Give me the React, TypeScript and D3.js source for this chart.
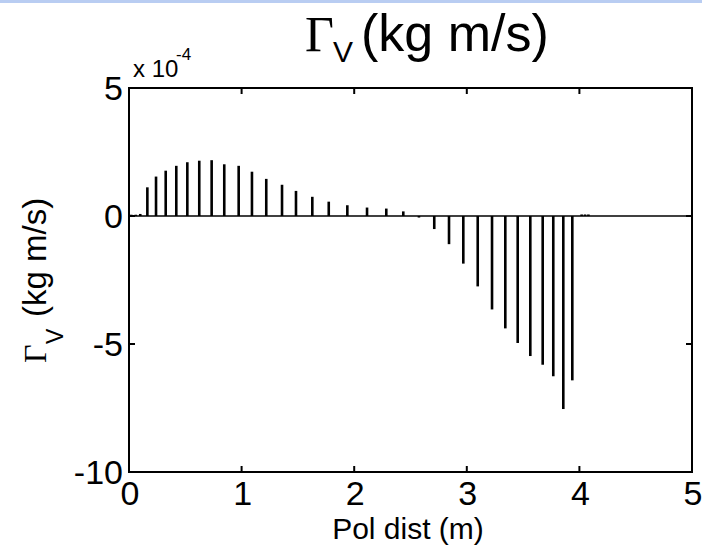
import React from "react";
import * as d3 from "d3";

// Data (values in units of 1e-4 kg m/s)
const polDist = [
  0.02, 0.06, 0.1, 0.163, 0.24, 0.326, 0.42, 0.518, 0.624, 0.734, 0.846, 0.974,
  1.092, 1.219, 1.359, 1.483, 1.628, 1.774, 1.939, 2.114, 2.285, 2.436, 2.575,
  2.711, 2.842, 2.969, 3.097, 3.224, 3.342, 3.452, 3.564, 3.674, 3.768, 3.857,
  3.937, 4.02, 4.05, 4.08,
];
const gammaV = [
  0.05, 0.05, 0.08, 1.12, 1.54, 1.77, 1.96, 2.1, 2.16, 2.18, 2.02, 1.96, 1.73,
  1.45, 1.22, 0.98, 0.75, 0.56, 0.42, 0.33, 0.29, 0.18, -0.06, -0.51, -1.1,
  -1.86, -2.75, -3.65, -4.39, -4.96, -5.47, -5.81, -6.26, -7.54, -6.42, 0.06,
  0.06, 0.06,
];
const xTicks = [0, 1, 2, 3, 4, 5];
const yTicks = [5, 0, -5, -10];
const xDomain = [0, 5];
const yDomain = [-10, 5];

const W = 702;
const H = 549;
const L = 129;
const R = 692;
const T = 88;
const B = 472;

const sans = "'Liberation Sans', Arial, Helvetica, sans-serif";
const serif = "'Liberation Serif', 'Times New Roman', serif";

export default function App() {
  const x = d3.scaleLinear().domain(xDomain).range([L, R]);
  const y = d3.scaleLinear().domain(yDomain).range([B, T]);
  const tickLen = 6;
  const barW = 2.6;

  return (
    <svg width={W} height={H} style={{ position: "absolute", left: 0, top: 0, background: "#fff" }}>
      <rect x={0} y={0} width={W} height={3} fill="#b9cdf2" />
      {/* title */}
      <text x={305} y={51} fontFamily={serif} fontSize={50} fill="#000">Γ</text>
      <text x={333} y={62} fontFamily={sans} fontSize={30} fill="#000">V</text>
      <text x={361} y={51} fontFamily={sans} fontSize={52} fill="#000">(kg m/s)</text>
      {/* exponent */}
      <text x={133} y={77} fontFamily={sans} fontSize={24} fill="#000">x 10</text>
      <text x={176} y={60} fontFamily={sans} fontSize={17} fill="#000">-4</text>
      {/* zero baseline */}
      <line x1={L} x2={R} y1={y(0)} y2={y(0)} stroke="#000" strokeWidth={1.3} />
      {/* bars */}
      {polDist.map((d, i) => {
        const v = gammaV[i];
        const y0 = y(0);
        const y1 = y(v);
        return (
          <rect
            key={i}
            x={x(d) - barW / 2}
            y={Math.min(y0, y1)}
            width={barW}
            height={Math.max(1, Math.abs(y1 - y0))}
            fill="#000"
          />
        );
      })}
      {/* axes box */}
      <rect x={L} y={T} width={R - L} height={B - T} fill="none" stroke="#000" strokeWidth={2} />
      {/* x ticks */}
      {xTicks.map((t) => (
        <g key={"x" + t}>
          <line x1={x(t)} x2={x(t)} y1={B} y2={B - tickLen} stroke="#000" strokeWidth={2} />
          <line x1={x(t)} x2={x(t)} y1={T} y2={T + tickLen} stroke="#000" strokeWidth={2} />
          <text x={x(t) + 1} y={505} textAnchor="middle" fontFamily={sans} fontSize={34} fill="#000">
            {t}
          </text>
        </g>
      ))}
      {/* y ticks */}
      {yTicks.map((t) => (
        <g key={"y" + t}>
          <line x1={L} x2={L + tickLen} y1={y(t)} y2={y(t)} stroke="#000" strokeWidth={2} />
          <line x1={R} x2={R - tickLen} y1={y(t)} y2={y(t)} stroke="#000" strokeWidth={2} />
          <text x={123} y={y(t) + 12} textAnchor="end" fontFamily={sans} fontSize={34} fill="#000">
            {t}
          </text>
        </g>
      ))}
      {/* x label */}
      <text x={408} y={539} textAnchor="middle" fontFamily={sans} fontSize={30} fill="#000">
        Pol dist (m)
      </text>
      {/* y label */}
      <g transform="translate(46,363) rotate(-90)">
        <text x={0} y={0} fontFamily={serif} fontSize={32} fill="#000">Γ</text>
        <text x={19} y={17} fontFamily={sans} fontSize={23} fill="#000">V</text>
        <text x={46} y={0} fontFamily={sans} fontSize={33} fill="#000">(kg m/s)</text>
      </g>
    </svg>
  );
}
